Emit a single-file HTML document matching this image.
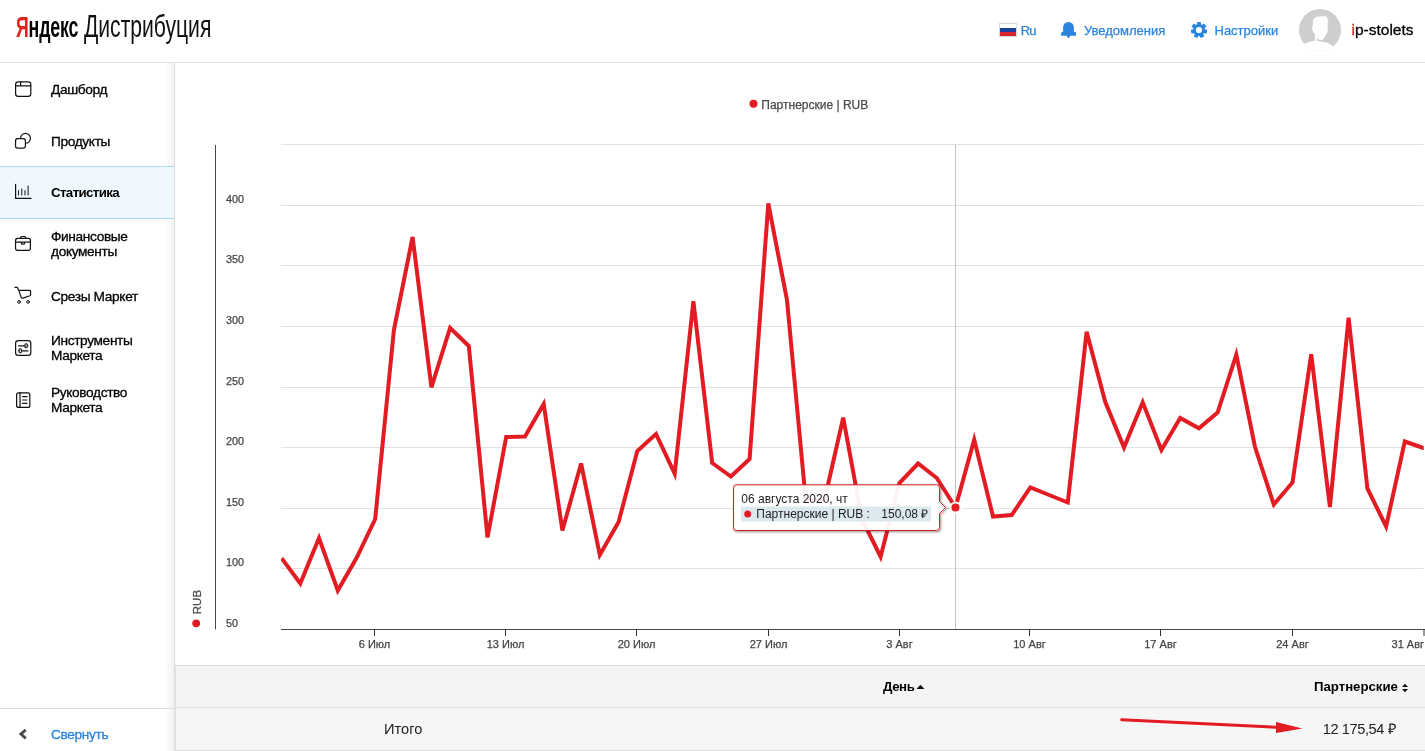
<!DOCTYPE html>
<html lang="ru">
<head>
<meta charset="utf-8">
<title>Яндекс Дистрибуция — Статистика</title>
<style>
*{box-sizing:border-box;margin:0;padding:0}
html,body{width:1425px;height:751px;overflow:hidden;background:#fff}
body{position:relative;font-family:"Liberation Sans",sans-serif;color:#000;font-size:14px}
#app{position:absolute;left:0;top:0;width:1425px;height:751px;overflow:hidden;background:#fff;will-change:transform}
.abs{position:absolute;white-space:nowrap}
#header{position:absolute;left:0;top:0;width:1425px;height:63px;border-bottom:1px solid #e2e2e2;background:#fff}
.logo{position:absolute;top:9px;height:36px;line-height:36px;white-space:nowrap;transform-origin:0 50%}
#logo1{left:15.5px;top:8.4px;font-size:30.4px;font-weight:bold;transform:scaleX(.584);letter-spacing:-.3px}
#logo1 b{color:#e3231d;font-weight:bold}
#logo2{left:83.7px;top:7.5px;font-size:30.6px;transform:scaleX(.69);color:#111}
.hl{position:absolute;top:22px;height:17px;line-height:17px;font-size:13px;color:#2a84de;white-space:nowrap;-webkit-text-stroke:.25px #2a84de}
#side{position:absolute;left:0;top:63px;width:175px;height:688px;border-right:1px solid #dcdcdc;
  background:linear-gradient(to right,rgba(0,0,0,0) 164px,rgba(0,0,0,.05) 174px) #fff}
.mi{position:absolute;left:51px;font-size:13.7px;letter-spacing:-.35px;line-height:15px;white-space:nowrap;color:#000;-webkit-text-stroke:.3px}
.ic{position:absolute;left:0;top:0}
#active{position:absolute;left:0;top:103px;width:174px;height:53px;background:#eff8fe;border-top:1px solid #a9dcf5;border-bottom:1px solid #a9dcf5}
#sfoot{position:absolute;left:0;top:644.5px;width:174px;height:1px;background:#dcdcdc}
#main{position:absolute;left:175px;top:63px;width:1250px;height:688px;background:#fff}
#chart{position:absolute;left:0;top:0}
#chart text{font-family:"Liberation Sans",sans-serif}
#thead{position:absolute;left:175px;top:665px;width:1250px;height:43px;background:#f4f4f4;border-top:1px solid #e0e0e0;border-bottom:1px solid #e0e0e0;border-left:1px solid #e3e3e3}
#trow{position:absolute;left:175px;top:708px;width:1250px;height:43px;background:#f6f6f6;border-bottom:1px solid #e0e0e0;border-left:1px solid #e3e3e3}
.th{position:absolute;font-weight:bold;font-size:13.2px;line-height:16px;white-space:nowrap;color:#000}
.td{position:absolute;font-size:14.6px;line-height:17px;white-space:nowrap;color:#222}
#tip{position:absolute;left:741.3px;top:491.8px;font-size:12px;line-height:15px;color:#222;white-space:nowrap}
</style>
</head>
<body>
<div id="app">
<div id="header">
  <div class="logo" id="logo1"><b>Я</b>ндекс</div>
  <div class="logo" id="logo2">Дистрибуция</div>
  <svg class="abs" style="left:999px;top:23px" width="18" height="14" viewBox="0 0 18 14"><rect x=".5" y=".5" width="17" height="13" fill="#fff" stroke="#d8d8d8"/><rect x="1" y="5" width="16" height="4" fill="#1f3f9e"/><rect x="1" y="9" width="16" height="4" fill="#d8262c"/></svg>
  <div class="hl" id="h_ru" style="left:1020.8px;letter-spacing:-.9px">Ru</div>
  <svg class="abs" style="left:1054px;top:16px" width="30" height="28" viewBox="1054 16 30 28"><path fill="#2a84de" d="M1063.1 32V27.4A5.4 5.4 0 0 1 1073.9 27.4V32H1074.6a1.4 1.4 0 0 1 1.4 1.4V35.8H1061.1V33.4a1.4 1.4 0 0 1 1.4-1.4zM1066.8 35.7H1070.2L1069.4 37.5Q1068.5 38.4 1067.6 37.5z"/></svg>
  <div class="hl" id="h_not" style="left:1084px">Уведомления</div>
  <svg class="abs" style="left:1189px;top:20px" width="20" height="20" viewBox="-10 -10 20 20"><g fill="#2a84de"><path fill-rule="evenodd" d="M0-5.9A5.9 5.9 0 1 0 0 5.9A5.9 5.9 0 1 0 0-5.9zM0-3.1A3.1 3.1 0 1 1 0 3.1A3.1 3.1 0 1 1 0-3.1z"/><rect x="-2" y="-8.1" width="4" height="3.4" rx=".7" transform="rotate(0)"/><rect x="-2" y="-8.1" width="4" height="3.4" rx=".7" transform="rotate(51.43)"/><rect x="-2" y="-8.1" width="4" height="3.4" rx=".7" transform="rotate(102.86)"/><rect x="-2" y="-8.1" width="4" height="3.4" rx=".7" transform="rotate(154.29)"/><rect x="-2" y="-8.1" width="4" height="3.4" rx=".7" transform="rotate(205.71)"/><rect x="-2" y="-8.1" width="4" height="3.4" rx=".7" transform="rotate(257.14)"/><rect x="-2" y="-8.1" width="4" height="3.4" rx=".7" transform="rotate(308.57)"/></g></svg>
  <div class="hl" id="h_set" style="left:1214.5px">Настройки</div>
  <svg class="abs" style="left:1299px;top:9px" width="42" height="42" viewBox="0 0 42 42"><defs><clipPath id="av"><circle cx="21" cy="21" r="21"/></clipPath></defs><circle cx="21" cy="21" r="21" fill="#cecece"/><g clip-path="url(#av)" fill="#fff"><path d="M3 36Q7 33.800 10.900 32.700L16.100 31.400L15.800 25.500L14 22.700L12.900 19.200L13.700 17.900L14 11.600Q14.300 10.200 15.100 9.500L17.850 7.470L25.500 7.300L27 6.100L27.500 8.500L30 9.900L28.200 10.600L29.600 12.700L28.200 13.400L29.400 15.100L28.100 15.800L29.300 17.500L28.200 18.200L28.900 21.300Q28.500 23.500 27.200 25.500L24.800 29.600Q23.800 30.800 22.400 31.100Q20.500 31.100 19.200 30.300L18.200 29.300L17.500 31.700L22.700 32.700L28.200 33.800Q31.500 35 33.800 37.200L38 43H3z"/></g></svg>
  <div class="abs" id="h_user" style="left:1351.5px;top:20px;font-size:15.5px;line-height:19px;color:#000;-webkit-text-stroke:.3px"><span style="color:#e3231d">i</span>p-stolets</div>
</div>

<div id="side">
  <div id="active"></div>
  <svg class="ic" width="50" height="688" viewBox="0 63 50 688" fill="none" stroke="#111" stroke-width="1.2" stroke-linecap="round" stroke-linejoin="round">
    <!-- dashboard -->
    <rect x="15.6" y="81.8" width="15.2" height="14.6" rx="2.6"/><path d="M15.6 85.8H30.8M20.6 81.8V85.8"/>
    <!-- products -->
    <circle cx="25.5" cy="138.3" r="4.95"/><rect x="15.55" y="138.6" width="9.85" height="9.6" rx="2.1" fill="#fff"/>
    <!-- stats -->
    <path d="M15.6 184.4V198.4H31"/><path stroke-width="1" stroke-linecap="butt" d="M18.6 190.2V195.4M21.8 188.6V195.4M25 190.2V195.4M28.1 185.6V195.4"/>
    <!-- briefcase -->
    <rect x="15.55" y="238.35" width="14.85" height="12.05" rx="2.1"/><path d="M20.4 238.3L20.9 236.9Q21.1 236.5 21.6 236.5H24.7Q25.2 236.5 25.4 236.9L25.9 238.3M15.55 242.1H30.4M21.4 242.1V243.2Q21.4 244.2 22.4 244.2H23.6Q24.6 244.2 24.6 243.2V242.1"/>
    <!-- cart -->
    <path d="M15 287.4H17.4L18.8 290.4L21.2 297.4Q21.6 298.5 22.8 298.1L29.9 295.7Q30.6 295.4 30.6 294.6V291.4Q30.6 290.4 29.6 290.4H18.8"/><circle cx="19" cy="301.9" r="1.35" stroke-width="1"/><circle cx="28" cy="301.9" r="1.35" stroke-width="1"/>
    <!-- tools -->
    <rect x="15.6" y="340.6" width="15.2" height="14.8" rx="2.6"/><path d="M18.6 345.8H28M18.6 350.8H28"/><rect x="25.4" y="343.9" width="1.8" height="3.8" fill="#fff" stroke-width="1"/><rect x="19.6" y="348.9" width="1.8" height="3.8" fill="#fff" stroke-width="1"/>
    <!-- book -->
    <rect x="16.6" y="392.8" width="13.2" height="14.6" rx="2"/><path d="M20 392.8V407.4M22.6 396.6H27M22.6 400H27M22.6 403.4H27"/>
    <!-- chevron -->
    <path d="M24.7 730.8L20.9 734.1L24.7 737.4" stroke="#4a4a4a" stroke-width="2.8" stroke-linecap="square" stroke-linejoin="miter"/>
  </svg>
  <div class="mi" id="m1" style="top:18.5px">Дашборд</div>
  <div class="mi" id="m2" style="top:70.5px">Продукты</div>
  <div class="mi" id="m3" style="top:121.5px;font-weight:bold;font-size:13.3px;letter-spacing:-.62px;-webkit-text-stroke:0">Статистика</div>
  <div class="mi" id="m4" style="top:165.5px">Финансовые<br>документы</div>
  <div class="mi" id="m5" style="top:225.5px">Срезы Маркет</div>
  <div class="mi" id="m6" style="top:269.5px">Инструменты<br>Маркета</div>
  <div class="mi" id="m7" style="top:321.5px">Руководство<br>Маркета</div>
  <div id="sfoot"></div>
  <div class="mi" id="m8" style="top:663.5px;color:#2a84de">Свернуть</div>
</div>

<div id="main">
<svg id="chart" width="1250" height="602" viewBox="175 63 1250 602">
  <defs><clipPath id="plot"><rect x="281" y="140" width="1142.7" height="489"/></clipPath></defs>
  <g stroke="#e1e1e1" stroke-width="1" fill="none"><path d="M281 144.5H1423.5"/><path d="M281 205.5H1423.5"/><path d="M281 265.5H1423.5"/><path d="M281 326.5H1423.5"/><path d="M281 387.5H1423.5"/><path d="M281 447.5H1423.5"/><path d="M281 508.5H1423.5"/><path d="M281 568.5H1423.5"/></g>
  <path d="M215.5 145V629.5" stroke="#484848" stroke-width="1"/>
  <path d="M281 629.5H1425" stroke="#484848" stroke-width="1"/>
  <g stroke="#333" stroke-width="1"><path d="M374.5 629V636"/><path d="M505.5 629V636"/><path d="M636.5 629V636"/><path d="M768.5 629V636"/><path d="M899.5 629V636"/><path d="M1029.5 629V636"/><path d="M1160.5 629V636"/><path d="M1292.5 629V636"/><path d="M1424 629V636"/></g>
  <path d="M955.5 145V629" stroke="#c4c4c4" stroke-width="1"/>
  <g font-size="10.8" fill="#444" stroke="#444" stroke-width=".25"><text x="226" y="202.7">400</text><text x="226" y="262.8">350</text><text x="226" y="323.7">300</text><text x="226" y="384.8">250</text><text x="226" y="444.7">200</text><text x="226" y="505.8">150</text><text x="226" y="565.7">100</text><text x="226" y="626.6">50</text></g>
  <g font-size="11" fill="#444" stroke="#444" stroke-width=".25"><text x="374.5" y="647.8" text-anchor="middle">6 Июл</text><text x="505.5" y="647.8" text-anchor="middle">13 Июл</text><text x="636.5" y="647.8" text-anchor="middle">20 Июл</text><text x="768.5" y="647.8" text-anchor="middle">27 Июл</text><text x="899.5" y="647.8" text-anchor="middle">3 Авг</text><text x="1029.5" y="647.8" text-anchor="middle">10 Авг</text><text x="1160.5" y="647.8" text-anchor="middle">17 Авг</text><text x="1292.5" y="647.8" text-anchor="middle">24 Авг</text><text x="1424" y="647.8" text-anchor="end">31 Авг</text></g>
  <circle cx="753.5" cy="103.7" r="4" fill="#e31b23"/>
  <text id="legend" x="761.3" y="108.8" font-size="12" fill="#4a4a4a" stroke="#4a4a4a" stroke-width=".25">Партнерские | RUB</text>
  <circle cx="196.2" cy="623.3" r="3.9" fill="#e31b23"/>
  <text id="ytitle" transform="translate(201.2 614.2) rotate(-90)" font-size="11.5" fill="#4a4a4a" stroke="#4a4a4a" stroke-width=".25">RUB</text>
  <g clip-path="url(#plot)"><polyline id="series" points="281.6,558.3 300.3,583.5 319.0,538 337.8,590.5 356.5,558 375.2,519 393.9,330 412.6,237 431.4,387.3 450.1,328 468.8,346 487.5,537.5 506.2,437 525.0,436.5 543.7,404 562.4,530.5 581.1,463.5 599.8,555 618.6,522 637.3,451 656.0,434 674.7,473.7 693.4,301.2 712.2,463 730.9,476.5 749.6,459 768.3,203.5 787.0,300 805.8,501 824.5,500 843.2,417.7 861.9,519 880.6,556.7 899.4,483 918.1,463.5 936.8,478 955.5,507.5 974.2,439.6 993.0,516.5 1011.7,515 1030.4,487.5 1049.1,495 1067.8,502.5 1086.6,331.7 1105.3,402 1124.0,447.5 1142.7,402.3 1161.4,450 1180.2,418 1198.9,428.3 1217.6,412.5 1236.3,354.7 1255.0,447 1273.8,504.5 1292.5,482.5 1311.2,354.2 1329.9,507 1348.6,317.8 1367.4,488.5 1386.1,526.5 1404.8,441.5 1423.5,448 1442.2,452" fill="none" stroke="#e31b23" stroke-width="4" stroke-linejoin="miter" stroke-miterlimit="4"/></g>
  <circle cx="955.5" cy="507.5" r="6" fill="#fff"/><circle cx="955.5" cy="507.5" r="4" fill="#e31b23"/>
  <!-- tooltip -->
  <g fill="none" stroke="#000" transform="translate(1 1)"><path d="M736.5 484.8H936.5a3 3 0 0 1 3 3V501.5L945.5 507.5L939.5 513.5V527.5a3 3 0 0 1 -3 3H736.5a3 3 0 0 1 -3 -3V487.8a3 3 0 0 1 3 -3z" stroke-width="5" stroke-opacity=".05"/><path d="M736.5 484.8H936.5a3 3 0 0 1 3 3V501.5L945.5 507.5L939.5 513.5V527.5a3 3 0 0 1 -3 3H736.5a3 3 0 0 1 -3 -3V487.8a3 3 0 0 1 3 -3z" stroke-width="3" stroke-opacity=".1"/><path d="M736.5 484.8H936.5a3 3 0 0 1 3 3V501.5L945.5 507.5L939.5 513.5V527.5a3 3 0 0 1 -3 3H736.5a3 3 0 0 1 -3 -3V487.8a3 3 0 0 1 3 -3z" stroke-width="1" stroke-opacity=".15"/></g>
  <path d="M736.5 484.8H936.5a3 3 0 0 1 3 3V501.5L945.5 507.5L939.5 513.5V527.5a3 3 0 0 1 -3 3H736.5a3 3 0 0 1 -3 -3V487.8a3 3 0 0 1 3 -3z" fill="rgba(255,255,255,.94)" stroke="#e31b23" stroke-width="1"/>
  <rect x="741" y="506.5" width="190" height="15" fill="#dbe9ef"/>
  <circle cx="747.7" cy="514" r="3.5" fill="#e31b23"/>
</svg>
</div>
<div id="thead"></div>
<div id="trow"></div>
<svg class="abs" style="left:1000px;top:700px" width="425" height="51" viewBox="1000 700 425 51"><path d="M1121.6 719.700L1277 727.300" stroke="#e31b23" stroke-width="2.900" stroke-linecap="round" fill="none"/><path d="M1276 721.900L1302.400 728.400L1276 733z" fill="#e31b23"/></svg>
<div class="th" id="th1" style="left:883px;top:679px;letter-spacing:-.4px">День</div>
<svg class="abs" style="left:916px;top:684px" width="9" height="6" viewBox="0 0 9 6"><path d="M.5 5L4.5 .8L8.5 5z" fill="#111"/></svg>
<div class="th" id="th2" style="left:1314px;top:679px">Партнерские</div>
<svg class="abs" style="left:1400.5px;top:682px" width="8" height="12" viewBox="0 0 8 12"><path d="M1 5L4 1.8L7 5zM1 7L4 10.2L7 7z" fill="#111"/></svg>
<div class="td" id="td1" style="left:384px;top:720.8px">Итого</div>
<div class="td" id="td2" style="left:1322.8px;top:720.8px;letter-spacing:-.42px">12 175,54 ₽</div>
<div id="tip">06 августа 2020, чт<br><span style="display:inline-block;margin-left:15px">Партнерские | RUB :</span><span id="tipv" style="position:absolute;right:auto;left:140px">150,08 ₽</span></div>
</div>
</body>
</html>
